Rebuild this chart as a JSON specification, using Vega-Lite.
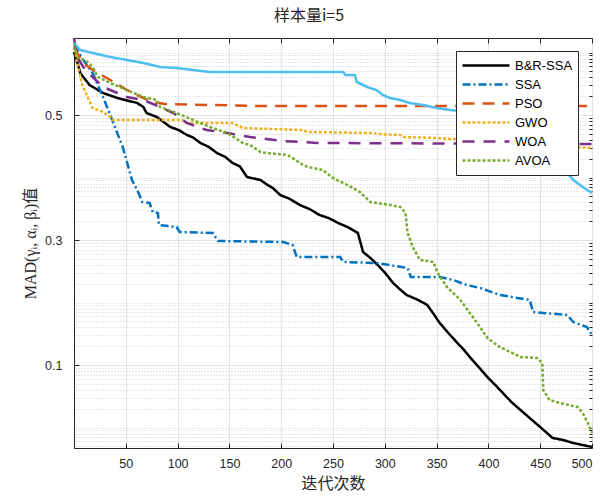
{
"$schema":"https://vega.github.io/schema/vega-lite/v6.json",
"width":518,"height":410,
"autosize":{"type":"none"},
"padding":{"left":74,"top":38,"right":24,"bottom":56},
"title":{"text":"样本量i=5","font":"Noto Sans CJK SC","fontSize":16,"fontWeight":"normal","color":"#262626","offset":9,"anchor":"middle","dx":-24},
"config":{"view":{"stroke":"#262626","strokeWidth":1}},
"datasets":{"curves":[
{"s":"B&R-SSA","x":0,"y":0.6008},{"s":"B&R-SSA","x":4,"y":0.580},{"s":"B&R-SSA","x":6,"y":0.5672},{"s":"B&R-SSA","x":15,"y":0.548},{"s":"B&R-SSA","x":28,"y":0.5352},{"s":"B&R-SSA","x":42,"y":0.5272},{"s":"B&R-SSA","x":61,"y":0.5192},{"s":"B&R-SSA","x":67,"y":0.5128},{"s":"B&R-SSA","x":70,"y":0.5032},{"s":"B&R-SSA","x":80,"y":0.4968},{"s":"B&R-SSA","x":93,"y":0.4808},{"s":"B&R-SSA","x":101,"y":0.476},{"s":"B&R-SSA","x":109,"y":0.468},{"s":"B&R-SSA","x":115,"y":0.464},{"s":"B&R-SSA","x":122,"y":0.4552},{"s":"B&R-SSA","x":130,"y":0.449},{"s":"B&R-SSA","x":138,"y":0.4392},{"s":"B&R-SSA","x":146,"y":0.433},{"s":"B&R-SSA","x":153,"y":0.4232},{"s":"B&R-SSA","x":160,"y":0.418},{"s":"B&R-SSA","x":167,"y":0.4008},{"s":"B&R-SSA","x":180,"y":0.396},{"s":"B&R-SSA","x":186,"y":0.389},{"s":"B&R-SSA","x":192,"y":0.383},{"s":"B&R-SSA","x":199,"y":0.372},{"s":"B&R-SSA","x":208,"y":0.366},{"s":"B&R-SSA","x":218,"y":0.356},{"s":"B&R-SSA","x":228,"y":0.349},{"s":"B&R-SSA","x":237,"y":0.34},{"s":"B&R-SSA","x":246,"y":0.335},{"s":"B&R-SSA","x":255,"y":0.3272},{"s":"B&R-SSA","x":265,"y":0.320},{"s":"B&R-SSA","x":274,"y":0.3112},{"s":"B&R-SSA","x":279,"y":0.2808},{"s":"B&R-SSA","x":287,"y":0.270},{"s":"B&R-SSA","x":295,"y":0.2568},{"s":"B&R-SSA","x":301,"y":0.246},{"s":"B&R-SSA","x":308,"y":0.2312},{"s":"B&R-SSA","x":314,"y":0.222},{"s":"B&R-SSA","x":321,"y":0.212},{"s":"B&R-SSA","x":331,"y":0.205},{"s":"B&R-SSA","x":341,"y":0.196},{"s":"B&R-SSA","x":347,"y":0.182},{"s":"B&R-SSA","x":353,"y":0.1672},{"s":"B&R-SSA","x":362,"y":0.150},{"s":"B&R-SSA","x":370,"y":0.1352},{"s":"B&R-SSA","x":376,"y":0.125},{"s":"B&R-SSA","x":382,"y":0.1128},{"s":"B&R-SSA","x":391,"y":0.096},{"s":"B&R-SSA","x":399,"y":0.0808},{"s":"B&R-SSA","x":406,"y":0.069},{"s":"B&R-SSA","x":414,"y":0.0552},{"s":"B&R-SSA","x":422,"y":0.041},{"s":"B&R-SSA","x":431,"y":0.028},{"s":"B&R-SSA","x":440,"y":0.015},{"s":"B&R-SSA","x":450,"y":0.0008},{"s":"B&R-SSA","x":456,"y":-0.008},{"s":"B&R-SSA","x":462,"y":-0.0168},{"s":"B&R-SSA","x":472,"y":-0.020},{"s":"B&R-SSA","x":482,"y":-0.0248},{"s":"B&R-SSA","x":491,"y":-0.028},{"s":"B&R-SSA","x":500,"y":-0.0312},
{"s":"SSA","x":0,"y":0.612},{"s":"SSA","x":9,"y":0.588},{"s":"SSA","x":18,"y":0.5672},{"s":"SSA","x":28,"y":0.5288},{"s":"SSA","x":38,"y":0.4872},{"s":"SSA","x":47,"y":0.4488},{"s":"SSA","x":56,"y":0.396},{"s":"SSA","x":61,"y":0.38},{"s":"SSA","x":66,"y":0.3608},{"s":"SSA","x":73,"y":0.3592},{"s":"SSA","x":76,"y":0.3448},{"s":"SSA","x":81,"y":0.3432},{"s":"SSA","x":82,"y":0.324},{"s":"SSA","x":99,"y":0.3208},{"s":"SSA","x":102,"y":0.3128},{"s":"SSA","x":134,"y":0.3112},{"s":"SSA","x":139,"y":0.2984},{"s":"SSA","x":202,"y":0.2968},{"s":"SSA","x":211,"y":0.292},{"s":"SSA","x":215,"y":0.2728},{"s":"SSA","x":257,"y":0.2728},{"s":"SSA","x":260,"y":0.2648},{"s":"SSA","x":292,"y":0.2632},{"s":"SSA","x":322,"y":0.2552},{"s":"SSA","x":325,"y":0.2408},{"s":"SSA","x":353,"y":0.2408},{"s":"SSA","x":366,"y":0.236},{"s":"SSA","x":379,"y":0.228},{"s":"SSA","x":392,"y":0.2232},{"s":"SSA","x":411,"y":0.212},{"s":"SSA","x":440,"y":0.204},{"s":"SSA","x":443,"y":0.1848},{"s":"SSA","x":476,"y":0.18},{"s":"SSA","x":482,"y":0.1688},{"s":"SSA","x":495,"y":0.1608},{"s":"SSA","x":500,"y":0.148},
{"s":"PSO","x":0,"y":0.6072},{"s":"PSO","x":9,"y":0.5832},{"s":"PSO","x":18,"y":0.572},{"s":"PSO","x":35,"y":0.556},{"s":"PSO","x":51,"y":0.54},{"s":"PSO","x":67,"y":0.5272},{"s":"PSO","x":76,"y":0.5208},{"s":"PSO","x":88,"y":0.5176},{"s":"PSO","x":180,"y":0.5144},{"s":"PSO","x":500,"y":0.5144},
{"s":"GWO","x":0,"y":0.6136},{"s":"GWO","x":4,"y":0.5768},{"s":"GWO","x":8,"y":0.548},{"s":"GWO","x":13,"y":0.5288},{"s":"GWO","x":18,"y":0.5112},{"s":"GWO","x":28,"y":0.5048},{"s":"GWO","x":35,"y":0.4968},{"s":"GWO","x":37,"y":0.492},{"s":"GWO","x":105,"y":0.492},{"s":"GWO","x":108,"y":0.4872},{"s":"GWO","x":153,"y":0.4872},{"s":"GWO","x":163,"y":0.4792},{"s":"GWO","x":221,"y":0.476},{"s":"GWO","x":225,"y":0.4728},{"s":"GWO","x":289,"y":0.4712},{"s":"GWO","x":292,"y":0.4696},{"s":"GWO","x":315,"y":0.468},{"s":"GWO","x":318,"y":0.4648},{"s":"GWO","x":350,"y":0.4632},{"s":"GWO","x":363,"y":0.4616},{"s":"GWO","x":431,"y":0.46},{"s":"GWO","x":469,"y":0.4504},{"s":"GWO","x":500,"y":0.4472},
{"s":"WOA","x":0,"y":0.6232},{"s":"WOA","x":3,"y":0.5928},{"s":"WOA","x":9,"y":0.5768},{"s":"WOA","x":18,"y":0.5608},{"s":"WOA","x":28,"y":0.5448},{"s":"WOA","x":42,"y":0.5352},{"s":"WOA","x":51,"y":0.5288},{"s":"WOA","x":67,"y":0.524},{"s":"WOA","x":83,"y":0.5128},{"s":"WOA","x":96,"y":0.5032},{"s":"WOA","x":109,"y":0.4872},{"s":"WOA","x":128,"y":0.476},{"s":"WOA","x":148,"y":0.4712},{"s":"WOA","x":170,"y":0.4648},{"s":"WOA","x":202,"y":0.4584},{"s":"WOA","x":235,"y":0.4552},{"s":"WOA","x":500,"y":0.4536},
{"s":"AVOA","x":0,"y":0.6088},{"s":"AVOA","x":3,"y":0.5928},{"s":"AVOA","x":13,"y":0.5848},{"s":"AVOA","x":18,"y":0.5768},{"s":"AVOA","x":23,"y":0.5608},{"s":"AVOA","x":35,"y":0.5512},{"s":"AVOA","x":51,"y":0.54},{"s":"AVOA","x":67,"y":0.5288},{"s":"AVOA","x":80,"y":0.524},{"s":"AVOA","x":83,"y":0.5128},{"s":"AVOA","x":99,"y":0.5032},{"s":"AVOA","x":115,"y":0.492},{"s":"AVOA","x":131,"y":0.4808},{"s":"AVOA","x":148,"y":0.4712},{"s":"AVOA","x":163,"y":0.4552},{"s":"AVOA","x":170,"y":0.452},{"s":"AVOA","x":180,"y":0.4408},{"s":"AVOA","x":186,"y":0.4392},{"s":"AVOA","x":206,"y":0.436},{"s":"AVOA","x":211,"y":0.4312},{"s":"AVOA","x":221,"y":0.42},{"s":"AVOA","x":226,"y":0.4168},{"s":"AVOA","x":240,"y":0.412},{"s":"AVOA","x":250,"y":0.3992},{"s":"AVOA","x":264,"y":0.388},{"s":"AVOA","x":276,"y":0.3768},{"s":"AVOA","x":286,"y":0.3608},{"s":"AVOA","x":305,"y":0.356},{"s":"AVOA","x":315,"y":0.3528},{"s":"AVOA","x":320,"y":0.3432},{"s":"AVOA","x":322,"y":0.3112},{"s":"AVOA","x":327,"y":0.2888},{"s":"AVOA","x":334,"y":0.268},{"s":"AVOA","x":347,"y":0.2648},{"s":"AVOA","x":351,"y":0.2472},{"s":"AVOA","x":360,"y":0.2248},{"s":"AVOA","x":373,"y":0.204},{"s":"AVOA","x":382,"y":0.1832},{"s":"AVOA","x":392,"y":0.1608},{"s":"AVOA","x":399,"y":0.1432},{"s":"AVOA","x":411,"y":0.1288},{"s":"AVOA","x":431,"y":0.1128},{"s":"AVOA","x":447,"y":0.1112},{"s":"AVOA","x":452,"y":0.1032},{"s":"AVOA","x":453,"y":0.06},{"s":"AVOA","x":459,"y":0.044},{"s":"AVOA","x":469,"y":0.0392},{"s":"AVOA","x":486,"y":0.0328},{"s":"AVOA","x":491,"y":0.0232},{"s":"AVOA","x":496,"y":0.0072},{"s":"AVOA","x":500,"y":-0.0088},
{"s":"Series 7","x":0,"y":0.6152},{"s":"Series 7","x":6,"y":0.604},{"s":"Series 7","x":18,"y":0.5992},{"s":"Series 7","x":35,"y":0.5928},{"s":"Series 7","x":51,"y":0.588},{"s":"Series 7","x":67,"y":0.5832},{"s":"Series 7","x":83,"y":0.5768},{"s":"Series 7","x":99,"y":0.5752},{"s":"Series 7","x":115,"y":0.572},{"s":"Series 7","x":131,"y":0.5688},{"s":"Series 7","x":260,"y":0.5688},{"s":"Series 7","x":262,"y":0.564},{"s":"Series 7","x":271,"y":0.564},{"s":"Series 7","x":273,"y":0.5528},{"s":"Series 7","x":283,"y":0.5448},{"s":"Series 7","x":292,"y":0.54},{"s":"Series 7","x":298,"y":0.532},{"s":"Series 7","x":305,"y":0.5272},{"s":"Series 7","x":315,"y":0.524},{"s":"Series 7","x":324,"y":0.5192},{"s":"Series 7","x":337,"y":0.516},{"s":"Series 7","x":350,"y":0.5112},{"s":"Series 7","x":363,"y":0.508},{"s":"Series 7","x":382,"y":0.5048},{"s":"Series 7","x":411,"y":0.4952},{"s":"Series 7","x":431,"y":0.484},{"s":"Series 7","x":450,"y":0.46},{"s":"Series 7","x":464,"y":0.428},{"s":"Series 7","x":476,"y":0.4072},{"s":"Series 7","x":482,"y":0.396},{"s":"Series 7","x":491,"y":0.3848},{"s":"Series 7","x":500,"y":0.3752}
]},
"data":{"name":"curves"},
"layer":[
{"transform":[{"filter":"datum.s !== 'Series 7'"}],
 "mark":{"type":"line","strokeWidth":2.5},
 "encoding":{
  "x":{"field":"x","type":"quantitative","title":"迭代次数","scale":{"domain":[0,500],"nice":false},
   "axis":{"orient":"bottom","values":[50,100,150,200,250,300,350,400,450,500],"grid":true,"gridColor":"#e3e3e3","tickSize":-5,"tickColor":"#262626","labelPadding":14,"labelFont":"Liberation Sans","labelFontSize":12.5,"labelColor":"#262626","domainColor":"#262626","titleFont":"Noto Sans CJK SC","titleFontSize":16,"titleFontWeight":"normal","titleColor":"#262626","titlePadding":6}},
  "y":{"field":"y","type":"quantitative","title":"MAD(γᵢ, αᵢ, βᵢ)值","scale":{"domain":[-0.0328,0.6232],"nice":false,"zero":false},
   "axis":{"orient":"left","values":[0.1,0.3,0.5],"format":".1f","grid":true,"gridColor":"#e3e3e3","tickSize":-5,"tickColor":"#262626","labelPadding":17,"labelFont":"Liberation Sans","labelFontSize":12.5,"labelColor":"#262626","domainColor":"#262626","titleFont":"Liberation Serif, Noto Sans CJK SC","titleFontSize":16,"titleFontWeight":"normal","titleColor":"#262626","titlePadding":6}},
  "color":{"field":"s","type":"nominal","scale":{"domain":["B&R-SSA","SSA","PSO","GWO","WOA","AVOA"],"range":["#000000","#0072BD","#D95319","#EDB120","#7E2F8E","#77AC30"]},
   "legend":{"orient":"none","legendX":382,"legendY":13,"title":null,"symbolType":"stroke","symbolSize":2209,"symbolStrokeWidth":2.5,"clipHeight":19,"rowPadding":0,"padding":5,"labelOffset":4,"labelFont":"Liberation Sans","labelFontSize":13,"labelColor":"#000000","strokeColor":"#262626","fillColor":"#ffffff"}},
  "strokeDash":{"field":"s","type":"nominal","scale":{"domain":["B&R-SSA","SSA","PSO","GWO","WOA","AVOA"],"range":[[1,0],[8,3,2,3],[12,8],[3,2],[12,9],[3,2]]},
   "legend":{"orient":"none","legendX":382,"legendY":13,"title":null,"symbolType":"stroke","symbolSize":2209,"symbolStrokeWidth":2.5,"clipHeight":19,"rowPadding":0,"padding":5,"labelOffset":4,"labelFont":"Liberation Sans","labelFontSize":13,"labelColor":"#000000","strokeColor":"#262626","fillColor":"#ffffff"}}
 }},
{"transform":[{"filter":"datum.s === 'Series 7'"}],
 "mark":{"type":"line","color":"#4DBEEE","strokeWidth":2.5},
 "encoding":{
  "x":{"field":"x","type":"quantitative","scale":{"domain":[0,500],"nice":false},
   "axis":{"orient":"top","values":[50,100,150,200,250,300,350,400,450,500],"labels":false,"grid":false,"title":null,"tickSize":-5,"tickColor":"#262626","domain":false}},
  "y":{"field":"y","type":"quantitative","scale":{"domain":[-0.0328,0.6232],"nice":false,"zero":false},
   "axis":{"orient":"right","labels":false,"title":null,"grid":true,"gridDash":[1,2],"gridColor":"#cfcfcf","tickSize":-3,"tickColor":"#262626","domain":false,
    "values":[-0.0301,-0.0222,-0.0155,-0.0097,-0.0046,0,0.0301,0.0477,0.0602,0.0699,0.0778,0.0845,0.0903,0.0954,0.1301,0.1477,0.1602,0.1699,0.1778,0.1845,0.1903,0.1954,0.2,0.2301,0.2477,0.2602,0.2699,0.2778,0.2845,0.2903,0.2954,0.3301,0.3477,0.3602,0.3699,0.3778,0.3845,0.3903,0.3954,0.4,0.4301,0.4477,0.4602,0.4699,0.4778,0.4845,0.4903,0.4954,0.5301,0.5477,0.5602,0.5699,0.5778,0.5845,0.5903,0.5954,0.6]}}
 }}
],
"resolve":{"axis":{"x":"independent","y":"independent"}}
}
